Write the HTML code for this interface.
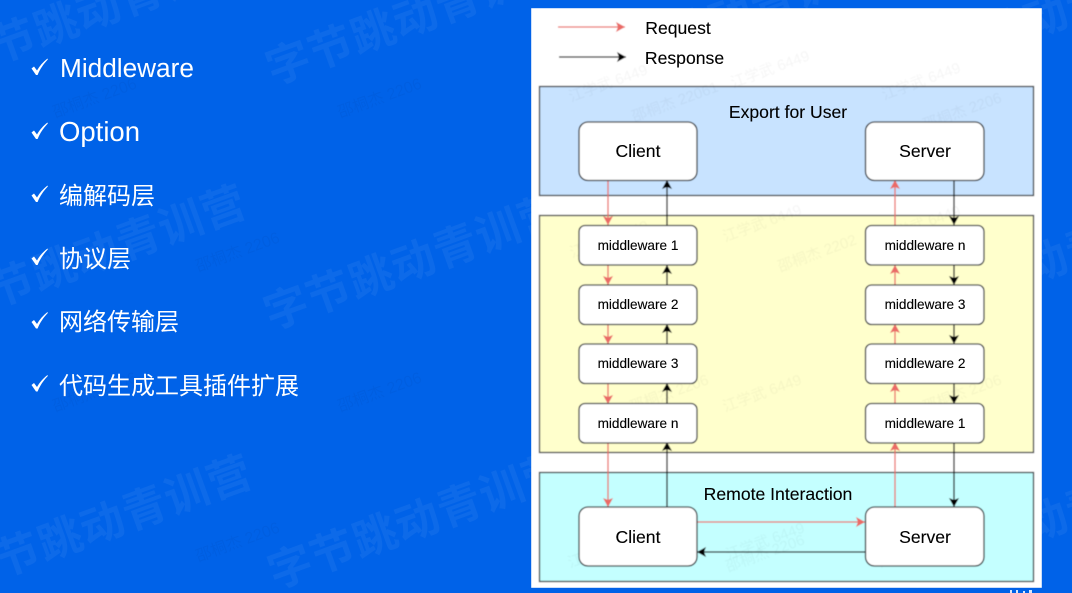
<!DOCTYPE html>
<html lang="zh">
<head>
<meta charset="utf-8">
<title>Middleware diagram</title>
<style>
html,body{margin:0;padding:0;width:1072px;height:593px;overflow:hidden;background:#0062e8}
svg{display:block}
.wm{font-family:"Liberation Sans","Noto Sans CJK SC",sans-serif;font-size:44px;font-weight:700;fill:#fff;fill-opacity:.05;letter-spacing:1px}
.sm{font-family:"Liberation Sans","Noto Sans CJK SC",sans-serif;font-size:16px;fill:#000;fill-opacity:.03}
.pm{font-family:"Liberation Sans","Noto Sans CJK SC",sans-serif;font-size:15px;fill:#000;fill-opacity:.04}
.li{font-family:"Liberation Sans","Noto Sans CJK SC",sans-serif;fill:#fff}
.cn{font-size:24px;font-family:"Noto Sans CJK SC","Liberation Sans",sans-serif}
.t{font-family:"Liberation Sans",sans-serif;fill:#000;text-anchor:middle;stroke:#000;stroke-width:.12}
.big{font-size:17.6px}
.mid{font-size:13.6px}
.r{stroke:#ea6b66;stroke-width:1.3;fill:none;marker-end:url(#ar)}
.k{stroke:#111;stroke-width:1.3;fill:none;marker-end:url(#ak)}
.box{fill:#fff;stroke:#36393d;stroke-width:1.3}
</style>
</head>
<body>
<svg width="1072" height="593" viewBox="0 0 1072 593" xmlns="http://www.w3.org/2000/svg">
<defs>
<marker id="ar" markerUnits="userSpaceOnUse" markerWidth="12" markerHeight="12" refX="9" refY="5" orient="auto"><path d="M0 0L9 5L0 10L2 5Z" fill="#ea6b66"/></marker>
<marker id="ak" markerUnits="userSpaceOnUse" markerWidth="12" markerHeight="12" refX="9" refY="5" orient="auto"><path d="M0 0L9 5L0 10L2 5Z" fill="#000"/></marker>
<filter id="soft" x="0" y="0" width="100%" height="100%"><feGaussianBlur stdDeviation="0.4"/></filter>
<filter id="softer" x="0" y="0" width="100%" height="100%"><feGaussianBlur stdDeviation="0.22"/></filter>
</defs>

<rect width="1072" height="593" fill="#0062e8"/>

<!-- large watermarks -->
<g class="wm">
<text transform="translate(-44 78) rotate(-20)">字节跳动青训营</text>
<text transform="translate(273 85) rotate(-20)">字节跳动青训营</text>
<text transform="translate(588 85) rotate(-20)">字节跳动青训营</text>
<text transform="translate(903 85) rotate(-20)">字节跳动青训营</text>
<text transform="translate(-46 322) rotate(-20)">字节跳动青训营</text>
<text transform="translate(271 330) rotate(-20)">字节跳动青训营</text>
<text transform="translate(903 330) rotate(-20)">字节跳动青训营</text>
<text transform="translate(-40 592) rotate(-20)">字节跳动青训营</text>
<text transform="translate(275 589) rotate(-20)">字节跳动青训营</text>
<text transform="translate(903 589) rotate(-20)">字节跳动青训营</text>
</g>

<!-- small faint watermarks, left -->
<g class="sm">
<text transform="translate(55 118) rotate(-20)">邵桐杰 2206</text>
<text transform="translate(340 118) rotate(-20)">邵桐杰 2206</text>
<text transform="translate(198 272) rotate(-20)">邵桐杰 2206</text>
<text transform="translate(55 412) rotate(-20)">邵桐杰 2206</text>
<text transform="translate(340 412) rotate(-20)">邵桐杰 2206</text>
<text transform="translate(198 562) rotate(-20)">邵桐杰 2206</text>
</g>

<!-- bullets -->
<g fill="#fff">
<path d="M31.5 68.5L34 66.5L37 70.5C39.5 66 43 62 47.5 58.5L47.8 59.5C43.5 64 40 69 37.6 75L36 75Z"/>
<path d="M31.5 132.5L34 130.5L37 134.5C39.5 130 43 126 47.5 122.5L47.8 123.5C43.5 128 40 133 37.6 139L36 139Z"/>
<path d="M31.5 195.5L34 193.5L37 197.5C39.5 193 43 189 47.5 185.5L47.8 186.5C43.5 191 40 196 37.6 202L36 202Z"/>
<path d="M31.5 258.5L34 256.5L37 260.5C39.5 256 43 252 47.5 248.5L47.8 249.5C43.5 254 40 259 37.6 265L36 265Z"/>
<path d="M31.5 322L34 320L37 324C39.5 319.5 43 315.5 47.5 312L47.8 313C43.5 317.5 40 322.5 37.6 328.5L36 328.5Z"/>
<path d="M31.5 385L34 383L37 387C39.5 382.5 43 378.5 47.5 375L47.8 376C43.5 380.5 40 385.5 37.6 391.5L36 391.5Z"/>
</g>
<g class="li">
<text x="60" y="77" font-size="26.2">Middleware</text>
<text x="59" y="141" font-size="27.5">Option</text>
<text class="cn" x="59" y="204">编解码层</text>
<text class="cn" x="59" y="267">协议层</text>
<text class="cn" x="59" y="330">网络传输层</text>
<text class="cn" x="59" y="394">代码生成工具插件扩展</text>
</g>

<!-- diagram panel -->
<g filter="url(#soft)">
<rect x="531" y="8" width="511" height="580" fill="#fff"/>

<line x1="558" y1="27" x2="625" y2="27" class="r"/>
<line x1="559" y1="57" x2="626" y2="57" class="k"/>

<rect x="539.5" y="86.5" width="494" height="109" fill="#c8e3ff" stroke="#36393d" stroke-width="1.3"/>
<rect x="539.5" y="215.5" width="494" height="237" fill="#ffffcc" stroke="#36393d" stroke-width="1.3"/>
<rect x="539.5" y="472.5" width="494" height="109" fill="#c4ffff" stroke="#36393d" stroke-width="1.3"/>

<!-- faint watermarks over the diagram -->
<g class="pm">
<text transform="translate(571 102) rotate(-20)">江学武 6449</text>
<text transform="translate(733 88) rotate(-20)">江学武 6449</text>
<text transform="translate(884 100) rotate(-20)">江学武 6449</text>
<text transform="translate(634 122) rotate(-20)">邵桐杰 22061</text>
<text transform="translate(925 130) rotate(-20)">邵桐杰 2206</text>
<text transform="translate(725 242) rotate(-20)">江学武 6449</text>
<text transform="translate(780 272) rotate(-20)">邵桐杰 2202</text>
<text transform="translate(884 243) rotate(-20)">江学武 6449</text>
<text transform="translate(572 258) rotate(-20)">江学武 6449</text>
<text transform="translate(632 412) rotate(-20)">邵桐杰 2206</text>
<text transform="translate(725 412) rotate(-20)">江学武 6449</text>
<text transform="translate(925 412) rotate(-20)">邵桐杰 2206</text>
<text transform="translate(570 568) rotate(-20)">江学武 6449</text>
<text transform="translate(728 572) rotate(-20)">邵桐杰 2206</text>
<text transform="translate(728 560) rotate(-20)">江学武 6449</text>
<text transform="translate(880 568) rotate(-20)">江学武 6449</text>
</g>

<!-- connectors -->
<line x1="608" y1="180" x2="608" y2="225" class="r"/>
<line x1="608" y1="265" x2="608" y2="285" class="r"/>
<line x1="608" y1="324" x2="608" y2="344" class="r"/>
<line x1="608" y1="383" x2="608" y2="404" class="r"/>
<line x1="608" y1="442" x2="608" y2="507" class="r"/>
<line x1="667" y1="225" x2="667" y2="180" class="k"/>
<line x1="667" y1="285" x2="667" y2="265" class="k"/>
<line x1="667" y1="344" x2="667" y2="324" class="k"/>
<line x1="667" y1="404" x2="667" y2="383" class="k"/>
<line x1="667" y1="507" x2="667" y2="442" class="k"/>
<line x1="895" y1="225" x2="895" y2="180" class="r"/>
<line x1="895" y1="285" x2="895" y2="265" class="r"/>
<line x1="895" y1="344" x2="895" y2="324" class="r"/>
<line x1="895" y1="404" x2="895" y2="383" class="r"/>
<line x1="895" y1="507" x2="895" y2="442" class="r"/>
<line x1="954" y1="180" x2="954" y2="225" class="k"/>
<line x1="954" y1="265" x2="954" y2="285" class="k"/>
<line x1="954" y1="324" x2="954" y2="344" class="k"/>
<line x1="954" y1="383" x2="954" y2="404" class="k"/>
<line x1="954" y1="442" x2="954" y2="507" class="k"/>
<line x1="697" y1="522" x2="865" y2="522" class="r"/>
<line x1="865" y1="552" x2="697" y2="552" class="k"/>

<!-- nodes -->
<rect class="box" x="579" y="122" width="118" height="58.5" rx="9"/>
<rect class="box" x="865.5" y="122" width="118.5" height="58.5" rx="9"/>
<rect class="box" x="579" y="225.5" width="118" height="39.5" rx="6"/>
<rect class="box" x="579" y="285" width="118" height="39.5" rx="6"/>
<rect class="box" x="579" y="344" width="118" height="39.5" rx="6"/>
<rect class="box" x="579" y="403.5" width="118" height="39.5" rx="6"/>
<rect class="box" x="865.5" y="225.5" width="118.5" height="39.5" rx="6"/>
<rect class="box" x="865.5" y="285" width="118.5" height="39.5" rx="6"/>
<rect class="box" x="865.5" y="344" width="118.5" height="39.5" rx="6"/>
<rect class="box" x="865.5" y="403.5" width="118.5" height="39.5" rx="6"/>
<rect class="box" x="579" y="507" width="118" height="59" rx="9"/>
<rect class="box" x="865.5" y="507" width="118.5" height="59" rx="9"/>
</g>

<!-- diagram labels -->
<g filter="url(#softer)">
<text class="t big" x="678" y="34">Request</text>
<text class="t big" x="684.5" y="64">Response</text>
<text class="t big" x="638" y="157">Client</text>
<text class="t big" x="925" y="157">Server</text>
<text class="t big" x="638" y="543">Client</text>
<text class="t big" x="925" y="543">Server</text>
<text class="t big" x="788" y="118">Export for User</text>
<text class="t big" x="778" y="500">Remote Interaction</text>
<text class="t mid" x="638" y="250">middleware 1</text>
<text class="t mid" x="638" y="309">middleware 2</text>
<text class="t mid" x="638" y="368">middleware 3</text>
<text class="t mid" x="638" y="428">middleware n</text>
<text class="t mid" x="925" y="250">middleware n</text>
<text class="t mid" x="925" y="309">middleware 3</text>
<text class="t mid" x="925" y="368">middleware 2</text>
<text class="t mid" x="925" y="428">middleware 1</text>
</g>

<!-- clipped marks below panel -->
<g fill="#fff" opacity=".85">
<rect x="1010" y="590" width="2" height="3"/>
<rect x="1016" y="590" width="2" height="3"/>
<rect x="1023" y="591" width="2" height="2"/>
<rect x="1029" y="590" width="3" height="3"/>
</g>
</svg>
</body>
</html>
